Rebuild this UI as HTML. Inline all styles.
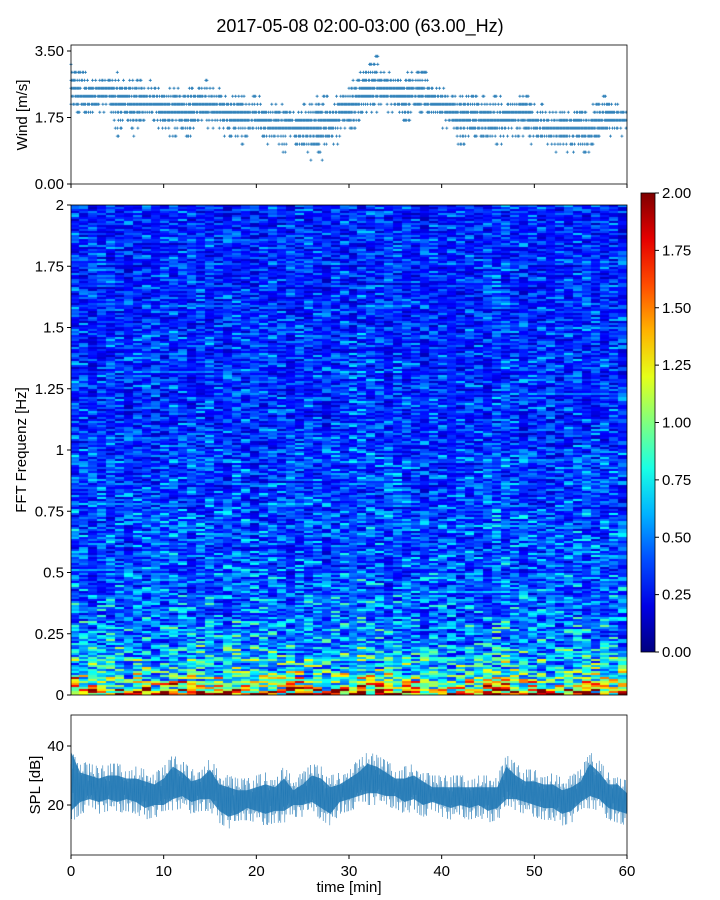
<!DOCTYPE html>
<html><head><meta charset="utf-8">
<style>
body{margin:0;background:#fff;width:720px;height:900px;overflow:hidden;font-family:"Liberation Sans",sans-serif;}
#wrap{position:relative;width:720px;height:900px;}
#hm{position:absolute;left:71px;top:205px;}
svg{position:absolute;left:0;top:0;}
text{font-family:"Liberation Sans",sans-serif;fill:#000;}
</style></head>
<body>
<div id="wrap">
<canvas id="hm" width="556" height="490"></canvas>
<svg id="s" width="720" height="900"></svg>
</div>
<script>
// ---- data ----
const minutes = [0,1,2,3,4,5,6,7,8,9,10,11,12,13,14,15,16,17,18,19,20,21,22,23,24,25,26,27,28,29,30,31,32,33,34,35,36,37,38,39,40,41,42,43,44,45,46,47,48,49,50,51,52,53,54,55,56,57,58,59,60];
const windHigh = [3.2,3.0,2.9,2.9,3.0,3.0,2.9,2.8,2.8,2.8,2.6,2.7,2.5,2.6,2.8,2.7,2.6,2.4,2.5,2.3,2.4,2.2,2.2,2.2,2.0,2.1,2.2,2.4,2.3,2.4,2.6,2.9,3.2,3.4,3.1,2.9,3.0,3.0,3.1,2.8,2.6,2.5,2.4,2.4,2.4,2.3,2.4,2.3,2.3,2.5,2.2,2.1,2.0,2.1,2.0,2.1,2.0,2.3,2.5,2.2,2.0];
const windLow = [1.9,1.8,1.7,1.8,1.9,1.3,1.5,1.3,1.6,1.6,1.3,1.3,1.2,1.3,1.5,1.4,1.4,1.2,1.0,1.2,1.3,1.1,1.0,0.9,1.1,0.9,0.6,0.7,0.9,1.2,1.4,1.5,1.8,1.9,1.9,1.8,1.6,1.8,1.8,1.6,1.6,1.3,1.0,1.2,1.2,1.0,1.0,1.2,1.2,1.2,1.1,1.0,0.9,0.8,0.9,0.8,0.9,1.0,1.2,1.3,1.4];
const splHigh = [42,35,34,33,34,34,33,33,32,31,33,37,35,32,33,36,31,30,29,29,30,31,30,33,29,31,34,33,30,31,33,35,38,37,35,33,33,34,32,30,30,30,30,30,30,30,30,37,34,32,32,31,31,29,30,32,38,35,31,31,28];
const splLow = [14,17,18,17,18,17,18,17,15,16,16,18,19,17,18,18,14,12,13,15,14,13,14,14,16,16,17,15,13,17,18,19,20,20,19,19,17,18,16,17,16,15,16,15,16,14,15,18,18,17,16,15,15,13,14,17,19,18,15,14,13];
const freqEdges = [0.012,0.025,0.045,0.07,0.1,0.15,0.2,0.3,0.4,0.5,0.75,1.0,1.5,2.0];
const bandLevel = [1.9,1.45,1.15,0.95,0.8,0.68,0.6,0.52,0.47,0.44,0.41,0.38,0.35,0.33];
const timeGain = [1.05,1.0,0.95,1.0,1.02,0.98,0.95,1.0,1.02,0.97,1.0,1.05,1.03,0.98,1.0,1.04,0.95,1.0,1.05,1.02,0.97,1.0,1.03,0.98,0.96,1.0,1.02,1.0,0.95,1.0,1.03,1.05,1.1,1.06,1.02,1.0,1.04,1.0,0.97,0.95,1.0,0.98,0.95,0.96,1.0,0.97,1.0,1.1,1.08,1.02,1.0,0.98,1.0,0.97,0.95,1.0,1.05,1.02,1.0,1.0,1.02,1.0];
const texture = [0.55,1.3,0.8,1.6,0.7,1.0,0.4,1.2,0.9,1.8,0.6,1.1,0.85,1.45,0.45,0.95,1.25,0.65,1.55,0.75,1.05,0.35,1.35,0.9,1.15,0.6,1.9,0.8,1.0,0.5,1.4,0.7,1.2,0.95,0.55,1.5,0.85];
const windTicks = [0,1.75,3.5], windTickLabels=["0.00","1.75","3.50"];
const freqTicks = [0,0.25,0.5,0.75,1,1.25,1.5,1.75,2], freqTickLabels=["0","0.25","0.5","0.75","1","1.25","1.5","1.75","2"];
const cbTicks = [0,0.25,0.5,0.75,1,1.25,1.5,1.75,2], cbTickLabels=["0.00","0.25","0.50","0.75","1.00","1.25","1.50","1.75","2.00"];
const splTicks=[20,40], splTickLabels=["20","40"];
const timeTicks=[0,10,20,30,40,50,60], timeTickLabels=["0","10","20","30","40","50","60"];

// ---- axes ----
const X0=71,X1=627;
const xs=t=>X0+(X1-X0)*t/60;
const yWind=v=>184-v*38;
const yFreq=f=>695-f*245;
const yCb=v=>652-v*229.5;
const ySpl=v=>864-v*2.95;

function jet(v){v=Math.max(0,Math.min(1,v));
 const r=Math.max(0,Math.min(1,1.5-Math.abs(4*v-3)));
 const g=Math.max(0,Math.min(1,1.5-Math.abs(4*v-2)));
 const b=Math.max(0,Math.min(1,1.5-Math.abs(4*v-1)));
 return [r*255|0,g*255|0,b*255|0];}

// heatmap
const ctx=document.getElementById('hm').getContext('2d');
const nCols=timeGain.length, nRows=245, cw=556/nCols;
for(let r=0;r<nRows;r++){
 const f=(r+0.5)/nRows*2;
 let bi=0;while(bi<freqEdges.length-1&&f>freqEdges[bi])bi++;
 for(let c=0;c<nCols;c++){
  const tx=texture[(r*31+c*17+((r*c)%11))%texture.length];
  const v=bandLevel[bi]*timeGain[c]*tx;
  const col=jet(v/2);
  ctx.fillStyle=`rgb(${col[0]},${col[1]},${col[2]})`;
  const x=Math.floor(c*cw), x2=Math.floor((c+1)*cw);
  const y=Math.floor(490-(r+1)*2), h=2;
  ctx.fillRect(x,y,x2-x,h);
 }
}

const svg=document.getElementById('s');const NS='http://www.w3.org/2000/svg';
function el(tag,attrs,parent){const e=document.createElementNS(NS,tag);for(const k in attrs)e.setAttribute(k,attrs[k]);(parent||svg).appendChild(e);return e;}
function txt(s,x,y,anchor,size,parent){const t=el('text',{x:x,y:y,'text-anchor':anchor,'font-size':size},parent);t.textContent=s;return t;}

// title
const title=txt('2017-05-08 02:00-03:00 (63.00_Hz)',360,32,'middle',18);



// wind scatter
const gW=el('g',{});


let pd='';
const NK=9;
for(let i=0;i<minutes.length-1;i++){
 for(let k=0;k<NK;k++){
  const t=minutes[i]+k/NK;
  const hi=windHigh[i]+(windHigh[i+1]-windHigh[i])*k/NK;
  const lo=windLow[i]+(windLow[i+1]-windLow[i])*k/NK;
  const mid=(hi+lo)/2;
  let j=0;
  for(let v=Math.round(lo/0.21)*0.21;v<=hi;v+=0.21,j++){
   const d=Math.abs(v-mid)/((hi-lo)/2+0.01);
   const tx=texture[(i*7+k*5+j*3)%texture.length];
   if(tx<0.3+d*1.1)continue;
   const x=xs(t),y=yWind(v);
   pd+=`M${(x-1.5).toFixed(1)} ${y.toFixed(1)}h3M${x.toFixed(1)} ${(y-1.5).toFixed(1)}v3`;
  }
 }
}
el('path',{d:pd,stroke:'#1f77b4','stroke-width':0.8,fill:'none'},gW);

// spl band
const gS=el('g',{});


let inner='';
minutes.forEach((m,i)=>{inner+=(i?'L':'M')+xs(m).toFixed(1)+' '+ySpl(splHigh[i]-4).toFixed(1);});
for(let i=minutes.length-1;i>=0;i--){inner+='L'+xs(minutes[i]).toFixed(1)+' '+ySpl(splLow[i]+4).toFixed(1);}
el('path',{d:inner+'Z',fill:'#1f77b4','fill-opacity':0.85},gS);
let zz='';const NS2=14;
for(let i=0;i<minutes.length-1;i++){
 for(let k=0;k<NS2;k++){
  const t=minutes[i]+k/NS2;
  const hi=splHigh[i]+(splHigh[i+1]-splHigh[i])*k/NS2;
  const lo=splLow[i]+(splLow[i+1]-splLow[i])*k/NS2;
  const tx=texture[(i*11+k*7)%texture.length];
  const a=Math.min(1,tx/1.3);
  const frac=(k%2===0)?0.5+0.5*a:0.5-0.5*a;
  const v=lo+(hi-lo)*frac;
  zz+=((i||k)?'L':'M')+xs(t).toFixed(1)+' '+ySpl(v).toFixed(1);
 }
}
el('path',{d:zz,stroke:'#1f77b4','stroke-width':0.5,fill:'none','stroke-opacity':0.85},gS);

// frames
[[71,45,556,139,'wind-axes-frame'],[71,205,556,490,'spectrogram-frame'],[71,715,556,140,'spl-axes-frame']].forEach(a=>{
 const r=el('rect',{x:a[0],y:a[1],width:a[2],height:a[3],fill:'none',stroke:'#000','stroke-width':0.8});
 
});

// colorbar
const defs=el('defs',{});
const lg=el('linearGradient',{id:'jg',x1:0,y1:1,x2:0,y2:0},defs);
for(let i=0;i<=10;i++){const c=jet(i/10);el('stop',{offset:i/10,'stop-color':`rgb(${c})`},lg);}
const cb=el('rect',{x:641,y:193,width:14,height:459,fill:'url(#jg)',stroke:'#000','stroke-width':0.8});


cbTicks.forEach((v,i)=>{const y=yCb(v);el('line',{x1:655,x2:659,y1:y,y2:y,stroke:'#000'});txt(cbTickLabels[i],662,y+5,'start',15);});

// y ticks
windTicks.forEach((v,i)=>{const y=yWind(v);el('line',{x1:67,x2:71,y1:y,y2:y,stroke:'#000'});txt(windTickLabels[i],64,y+5,'end',15);});
freqTicks.forEach((v,i)=>{const y=yFreq(v);el('line',{x1:67,x2:71,y1:y,y2:y,stroke:'#000'});txt(freqTickLabels[i],64,y+5,'end',15);});
splTicks.forEach((v,i)=>{const y=ySpl(v);el('line',{x1:67,x2:71,y1:y,y2:y,stroke:'#000'});txt(splTickLabels[i],64,y+5,'end',15);});
// x ticks
timeTicks.forEach((t,i)=>{const x=xs(t);
 el('line',{x1:x,x2:x,y1:184,y2:188,stroke:'#000'});
 el('line',{x1:x,x2:x,y1:855,y2:859,stroke:'#000'});
 txt(timeTickLabels[i],x,876,'middle',15);});

// axis titles
const a1=txt('Wind [m/s]',0,0,'middle',15);a1.setAttribute('transform','translate(27,115) rotate(-90)');

const a2=txt('FFT Frequenz [Hz]',0,0,'middle',15);a2.setAttribute('transform','translate(26,450) rotate(-90)');

const a3=txt('SPL [dB]',0,0,'middle',15);a3.setAttribute('transform','translate(40,785) rotate(-90)');

const a4=txt('time [min]',349,892,'middle',15);

</script>
</body></html>
